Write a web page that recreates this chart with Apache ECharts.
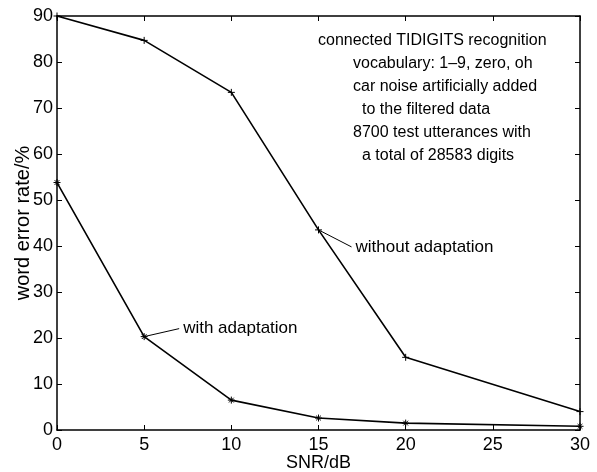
<!DOCTYPE html>
<html>
<head>
<meta charset="utf-8">
<script src="https://cdn.jsdelivr.net/npm/echarts@6/dist/echarts.min.js"></script>
<style>
  html, body { margin: 0; padding: 0; background: #fff; }
  #chart { width: 597px; height: 472px; }
</style>
</head>
<body>
<div id="chart"></div>
<script>
// data
var snr = [0, 5, 10, 15, 20, 30];
var werWithout = [90, 84.7, 73.4, 43.5, 15.8, 4.0];
var werWith = [53.8, 20.3, 6.5, 2.6, 1.5, 0.8];

var noteLines = [
  "connected TIDIGITS recognition",
  "vocabulary: 1\u20139, zero, oh",
  "car noise artificially added",
  "to the filtered data",
  "8700 test utterances with",
  "a total of 28583 digits"
];
// indent of each note line (px), as in the original
var noteIndent = [0, 35, 35, 44, 35, 44];

var FONT = "Liberation Sans, Arial, Helvetica, sans-serif";
var PLUS = "path://M5,0 L5,10 M0,5 L10,5";
var STAR = "path://M5,0 L5,10 M0,5 L10,5 M1.6,1.6 L8.4,8.4 M8.4,1.6 L1.6,8.4";

function pairs(xs, ys) {
  return xs.map(function (x, i) { return [x, ys[i]]; });
}

var chart = echarts.init(document.getElementById("chart"));

var axisLine = { show: true, onZero: false, lineStyle: { color: "#000", width: 1.5 } };
var tickIn = { show: true, inside: true, length: 5, lineStyle: { color: "#000", width: 1 } };

chart.setOption({
  animation: false,
  backgroundColor: "#fff",
  textStyle: { fontFamily: FONT },
  grid: { left: 57, right: 17, top: 16, bottom: 42, containLabel: false, outerBoundsMode: "none" },
  xAxis: [{
    type: "value", min: 0, max: 30, interval: 5,
    name: "SNR/dB", nameLocation: "middle", nameGap: 24, nameMoveOverlap: false,
    nameTextStyle: { color: "#000", fontSize: 18, fontFamily: FONT },
    axisLine: axisLine, axisTick: tickIn,
    axisLabel: { color: "#000", fontSize: 18, margin: 6, fontFamily: FONT },
    splitLine: { show: false }
  }, {
    type: "value", position: "top", min: 0, max: 30, interval: 5,
    axisLine: axisLine, axisTick: tickIn,
    axisLabel: { show: false }, splitLine: { show: false }
  }],
  yAxis: [{
    type: "value", min: 0, max: 90, interval: 10,
    name: "word error rate/%", nameLocation: "middle", nameGap: 24, nameMoveOverlap: false,
    nameTextStyle: { color: "#000", fontSize: 20, fontFamily: FONT },
    axisLine: axisLine, axisTick: tickIn,
    axisLabel: { color: "#000", fontSize: 18, margin: 4, fontFamily: FONT },
    splitLine: { show: false }
  }, {
    type: "value", position: "right", min: 0, max: 90, interval: 10,
    axisLine: axisLine, axisTick: tickIn,
    axisLabel: { show: false }, splitLine: { show: false }
  }],
  series: [{
    name: "without adaptation", type: "line",
    data: pairs(snr, werWithout),
    symbol: PLUS, symbolSize: 7, showAllSymbol: true, clip: false,
    lineStyle: { color: "#000", width: 1.6 },
    itemStyle: { color: "none", borderColor: "#000", borderWidth: 1 }
  }, {
    name: "with adaptation", type: "line",
    data: pairs(snr, werWith),
    symbol: STAR, symbolSize: 7, showAllSymbol: true, clip: false,
    lineStyle: { color: "#000", width: 1.6 },
    itemStyle: { color: "none", borderColor: "#000", borderWidth: 1 }
  }]
});

// annotations: leader lines + labels anchored on data points
function leader(pt, dx, dy, text) {
  var p = chart.convertToPixel({ gridIndex: 0 }, pt);
  return [{
    type: "line",
    shape: { x1: p[0], y1: p[1], x2: p[0] + dx, y2: p[1] + dy },
    style: { stroke: "#000", lineWidth: 1 }
  }, {
    type: "text", x: p[0] + dx + 4, y: p[1] + dy,
    style: { text: text, fill: "#000", font: "17px " + FONT, textVerticalAlign: "middle" }
  }];
}

var g = [];
g = g.concat(leader([snr[3], werWithout[3]], 33, 17, "without adaptation"));
g = g.concat(leader([snr[1], werWith[1]], 35, -8, "with adaptation"));

noteLines.forEach(function (s, i) {
  g.push({
    type: "text", x: 318 + noteIndent[i], y: 41 + i * 23,
    style: { text: s, fill: "#000", font: "16px " + FONT, textVerticalAlign: "middle" }
  });
});

chart.setOption({ graphic: g });
</script>
</body>
</html>
